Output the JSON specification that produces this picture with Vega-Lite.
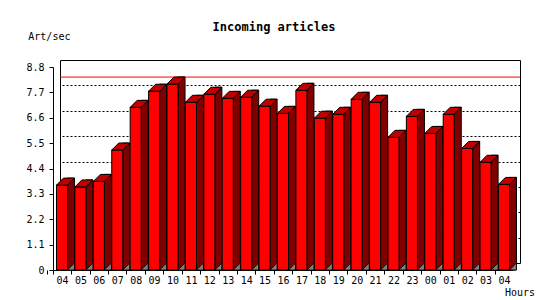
{
  "$schema": "https://vega.github.io/schema/vega-lite/v6.json",
  "autosize": "none",
  "width": 460,
  "height": 203,
  "padding": {"left": 60, "top": 60, "right": 30, "bottom": 37},
  "background": "white",
  "title": {
    "text": "Incoming articles",
    "font": "DejaVu Sans Mono",
    "fontSize": 12,
    "fontWeight": "bold",
    "color": "black",
    "anchor": "middle",
    "frame": "group",
    "dx": -16,
    "dy": 10,
    "offset": 1
  },
  "config": {
    "view": {"stroke": "black", "strokeWidth": 1},
    "axis": {
      "labelFont": "DejaVu Sans Mono",
      "labelFontSize": 10,
      "labelColor": "black",
      "titleFont": "DejaVu Sans Mono",
      "titleFontSize": 10,
      "titleFontWeight": "normal",
      "titleColor": "black",
      "domainColor": "black",
      "tickColor": "black"
    }
  },
  "data": {
    "values": [
      {"h": "04", "v": 3.68}, {"h": "05", "v": 3.60}, {"h": "06", "v": 3.84},
      {"h": "07", "v": 5.20}, {"h": "08", "v": 7.05}, {"h": "09", "v": 7.75},
      {"h": "10", "v": 8.06}, {"h": "11", "v": 7.27}, {"h": "12", "v": 7.62},
      {"h": "13", "v": 7.44}, {"h": "14", "v": 7.49}, {"h": "15", "v": 7.10},
      {"h": "16", "v": 6.79}, {"h": "17", "v": 7.79}, {"h": "18", "v": 6.58},
      {"h": "19", "v": 6.75}, {"h": "20", "v": 7.40}, {"h": "21", "v": 7.27},
      {"h": "22", "v": 5.75}, {"h": "23", "v": 6.66}, {"h": "00", "v": 5.92},
      {"h": "01", "v": 6.75}, {"h": "02", "v": 5.27}, {"h": "03", "v": 4.67},
      {"h": "04 ", "v": 3.71}
    ]
  },
  "resolve": {"axis": {"x": "independent", "y": "independent"}},
  "layer": [
    {
      "mark": {"type": "rule", "color": "#ff0000", "strokeWidth": 1},
      "encoding": {
        "y": {
          "aggregate": "max", "field": "v", "type": "quantitative",
          "scale": {"domain": [0, 8.8], "nice": false},
          "axis": {
            "orient": "right", "grid": true, "gridColor": "black", "gridDash": [2, 2],
            "gridWidth": 1, "gridOpacity": 1, "domain": false, "labels": false,
            "ticks": false, "title": null,
            "values": [1.1, 2.2, 3.3, 4.4, 5.5, 6.6, 7.7]
          }
        }
      }
    },
    {
      "mark": {"type": "bar", "width": 7, "xOffset": 2.03, "yOffset": 0, "y2Offset": 7,
               "fill": "#800000", "stroke": "black", "strokeWidth": 1},
      "encoding": {
        "x": {"field": "h", "type": "nominal", "sort": null,
              "scale": {"paddingInner": 0.4, "paddingOuter": 0.19}, "axis": null},
        "y": {"field": "v", "type": "quantitative", "scale": {"domain": [0, 8.8], "nice": false}, "axis": null},
        "y2": {"datum": 0}
      }
    },
    {
      "mark": {"type": "point", "shape": "M-1.47,7L5.53,7L5.53,0Z", "size": 4, "filled": true,
               "fill": "#808080", "stroke": "black", "strokeWidth": 0.8, "opacity": 1},
      "encoding": {
        "x": {"field": "h", "type": "nominal", "sort": null, "axis": null},
        "y": {"datum": 0, "type": "quantitative", "axis": null}
      }
    },
    {
      "mark": {"type": "bar", "xOffset": -7, "yOffset": 7, "y2Offset": 7,
               "fill": "#ff0000", "stroke": "black", "strokeWidth": 1},
      "encoding": {
        "x": {
          "field": "h", "type": "nominal", "sort": null,
          "axis": {
            "orient": "bottom", "translate": -6.5, "offset": 14,
            "labelAngle": 0, "labelExpr": "trim(datum.label)",
            "labelBaseline": "alphabetic", "labelPadding": 9.5, "tickSize": 4,
            "tickOffset": -9.2, "labelOffset": 9.2, "tickExtra": true,
            "labelOverlap": false, "labelFlush": false, "grid": false,
            "title": "Hours", "titleX": 451.5, "titleY": 25.5,
            "titleAlign": "left", "titleBaseline": "alphabetic"
          }
        },
        "y": {
          "field": "v", "type": "quantitative",
          "axis": {
            "orient": "left", "translate": 7.5, "offset": 14, "grid": false,
            "values": [0, 1.1, 2.2, 3.3, 4.4, 5.5, 6.6, 7.7, 8.8],
            "format": ".1~f", "tickSize": 4, "labelPadding": 5,
            "labelBaseline": "middle",
            "title": "Art/sec", "titleAngle": 0, "titleX": -25.2, "titleY": -27.5,
            "titleAlign": "left", "titleBaseline": "alphabetic"
          }
        },
        "y2": {"datum": 0}
      }
    },
    {
      "mark": {"type": "point", "shape": "M-12.53,7L-1.47,7L5.53,0L-5.53,0Z", "size": 4,
               "filled": true, "fill": "#c00000", "stroke": "black", "strokeWidth": 1, "opacity": 1},
      "encoding": {
        "x": {"field": "h", "type": "nominal", "sort": null, "axis": null},
        "y": {"field": "v", "type": "quantitative", "axis": null}
      }
    }
  ]
}
